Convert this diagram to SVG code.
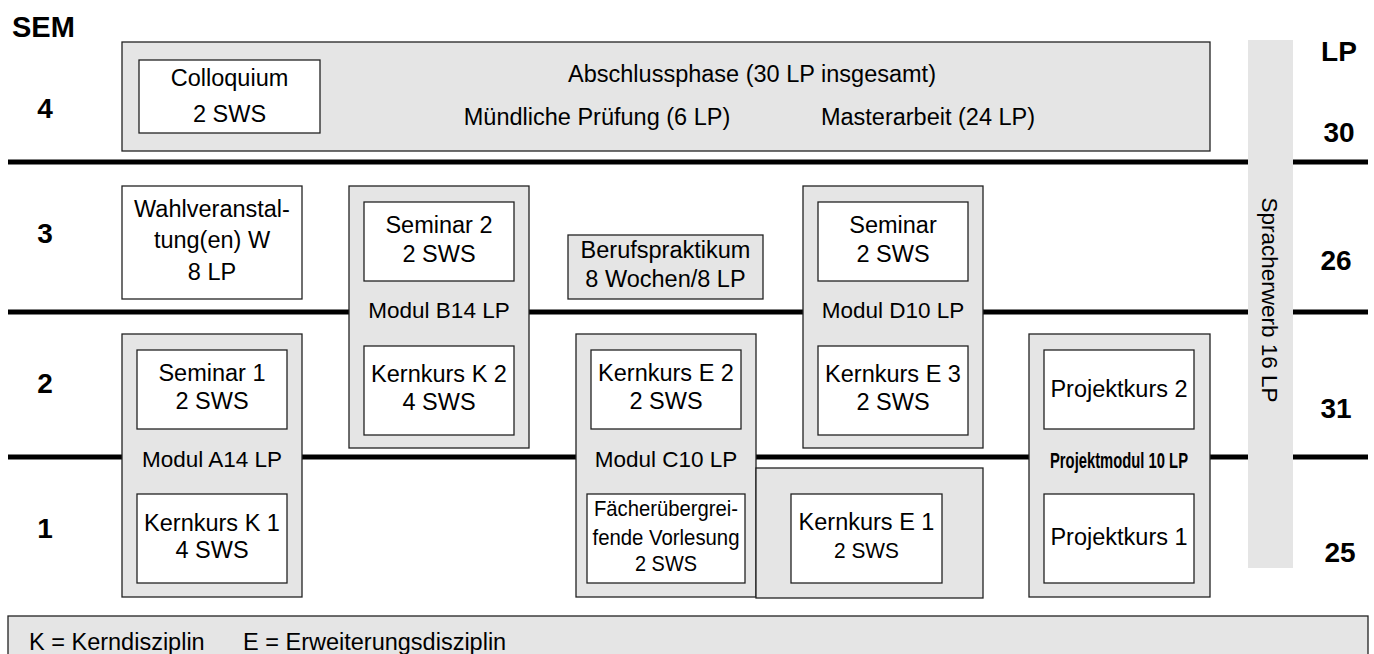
<svg xmlns="http://www.w3.org/2000/svg" width="1374" height="654" viewBox="0 0 1374 654">
<style>
text{font-family:"Liberation Sans",Arial,sans-serif;font-size:23.5px;fill:#000;text-anchor:middle}
.b{font-weight:bold;font-size:28px}
.m{font-size:22.5px}
.g{fill:#e5e5e5;stroke:#222;stroke-width:1.3}
.w{fill:#fff;stroke:#222;stroke-width:1.3}
.sep{stroke:#000;stroke-width:5}
</style>
<rect width="1374" height="654" fill="#fff"/>
<g id="connectors">
<line class="sep" x1="8" y1="162" x2="1368" y2="162"/>
<line class="sep" x1="8" y1="312" x2="1368" y2="312"/>
<line class="sep" x1="8" y1="457" x2="1368" y2="457"/>
</g>
<g id="labels">
<text class="b" x="12" y="37" style="text-anchor:start;font-size:29px">SEM</text>
<text class="b" x="45" y="118">4</text>
<text class="b" x="45" y="243">3</text>
<text class="b" x="45" y="393">2</text>
<text class="b" x="45" y="538">1</text>
<text class="b" x="1339" y="61">LP</text>
<text class="b" x="1339" y="142">30</text>
<text class="b" x="1336" y="270">26</text>
<text class="b" x="1336" y="418">31</text>
<text class="b" x="1340" y="562">25</text>
</g>
<g id="abschluss">
<rect class="g" x="122" y="42" width="1088" height="109"/>
<text x="752" y="82">Abschlussphase (30 LP insgesamt)</text>
<text x="597" y="125">Mündliche Prüfung (6 LP)</text>
<text x="928" y="125">Masterarbeit (24 LP)</text>
</g>
<g id="colloquium">
<rect class="w" x="139" y="60" width="181" height="73"/>
<text x="229.5" y="86">Colloquium</text>
<text x="229.5" y="122">2 SWS</text>
</g>
<g id="sprach">
<rect x="1248" y="40" width="45" height="528" fill="#e5e5e5"/>
<text transform="translate(1262,300) rotate(90)" style="font-size:22.5px">Spracherwerb 16 LP</text>
</g>
<g id="wahl">
<rect class="w" x="122" y="186" width="180" height="113"/>
<text x="212" y="217">Wahlveranstal-</text>
<text x="212" y="248">tung(en) W</text>
<text x="212" y="280">8 LP</text>
</g>
<g id="modulB">
<rect class="g" x="349" y="186" width="180" height="262"/>
<text class="m" x="439" y="318">Modul B14 LP</text>
</g>
<g id="seminar2">
<rect class="w" x="364" y="202" width="150" height="79"/>
<text x="439" y="233">Seminar 2</text>
<text x="439" y="262">2 SWS</text>
</g>
<g id="kernK2">
<rect class="w" x="364" y="346" width="150" height="89"/>
<text x="439" y="382">Kernkurs K 2</text>
<text x="439" y="410">4 SWS</text>
</g>
<g id="modulA">
<rect class="g" x="122" y="334" width="180" height="263"/>
<text class="m" x="212" y="467">Modul A14 LP</text>
</g>
<g id="seminar1">
<rect class="w" x="137" y="350" width="150" height="79"/>
<text x="212" y="381">Seminar 1</text>
<text x="212" y="409">2 SWS</text>
</g>
<g id="kernK1">
<rect class="w" x="137" y="494" width="150" height="89"/>
<text x="212" y="531">Kernkurs K 1</text>
<text x="212" y="558">4 SWS</text>
</g>
<g id="beruf">
<rect class="g" x="568" y="235" width="195" height="64"/>
<text x="665.5" y="258">Berufspraktikum</text>
<text x="665.5" y="287">8 Wochen/8 LP</text>
</g>
<g id="modulD">
<rect class="g" x="803" y="186" width="180" height="262"/>
<text class="m" x="893" y="318">Modul D10 LP</text>
</g>
<g id="seminarD">
<rect class="w" x="818" y="202" width="150" height="79"/>
<text x="893" y="233">Seminar</text>
<text x="893" y="262">2 SWS</text>
</g>
<g id="kernE3">
<rect class="w" x="818" y="346" width="150" height="89"/>
<text x="893" y="382">Kernkurs E 3</text>
<text x="893" y="410">2 SWS</text>
</g>
<g id="modulC">
<rect class="g" x="576" y="334" width="180" height="263"/>
<text class="m" x="666" y="467">Modul C10 LP</text>
</g>
<g id="kernE2">
<rect class="w" x="591" y="350" width="150" height="79"/>
<text x="666" y="381">Kernkurs E 2</text>
<text x="666" y="409">2 SWS</text>
</g>
<g id="faecher">
<rect class="w" x="587" y="494" width="158" height="89"/>
<text x="666" y="516" textLength="144" lengthAdjust="spacingAndGlyphs" style="font-size:22px">Fächerübergrei-</text>
<text x="666" y="545" textLength="147" lengthAdjust="spacingAndGlyphs" style="font-size:22px">fende Vorlesung</text>
<text x="666" y="571" textLength="62" lengthAdjust="spacingAndGlyphs" style="font-size:22px">2 SWS</text>
</g>
<g id="kernE1box">
<rect class="g" x="756" y="468" width="227" height="130"/>
</g>
<g id="kernE1">
<rect class="w" x="791" y="494" width="151" height="89"/>
<text x="866.5" y="530">Kernkurs E 1</text>
<text x="866.5" y="558" textLength="65" lengthAdjust="spacingAndGlyphs" style="font-size:22.5px">2 SWS</text>
</g>
<g id="projektmodul">
<rect class="g" x="1029" y="334" width="181" height="263"/>
<text x="1119" y="468" textLength="138" lengthAdjust="spacingAndGlyphs" style="font-size:22px;font-weight:bold">Projektmodul 10 LP</text>
</g>
<g id="projekt2">
<rect class="w" x="1044" y="350" width="150" height="79"/>
<text x="1119" y="397">Projektkurs 2</text>
</g>
<g id="projekt1">
<rect class="w" x="1044" y="494" width="150" height="89"/>
<text x="1119" y="545">Projektkurs 1</text>
</g>
<g id="legend">
<rect class="g" x="8" y="616" width="1360" height="50"/>
<text x="29" y="650" style="text-anchor:start">K = Kerndisziplin</text>
<text x="243" y="650" style="text-anchor:start">E = Erweiterungsdisziplin</text>
</g>
</svg>
